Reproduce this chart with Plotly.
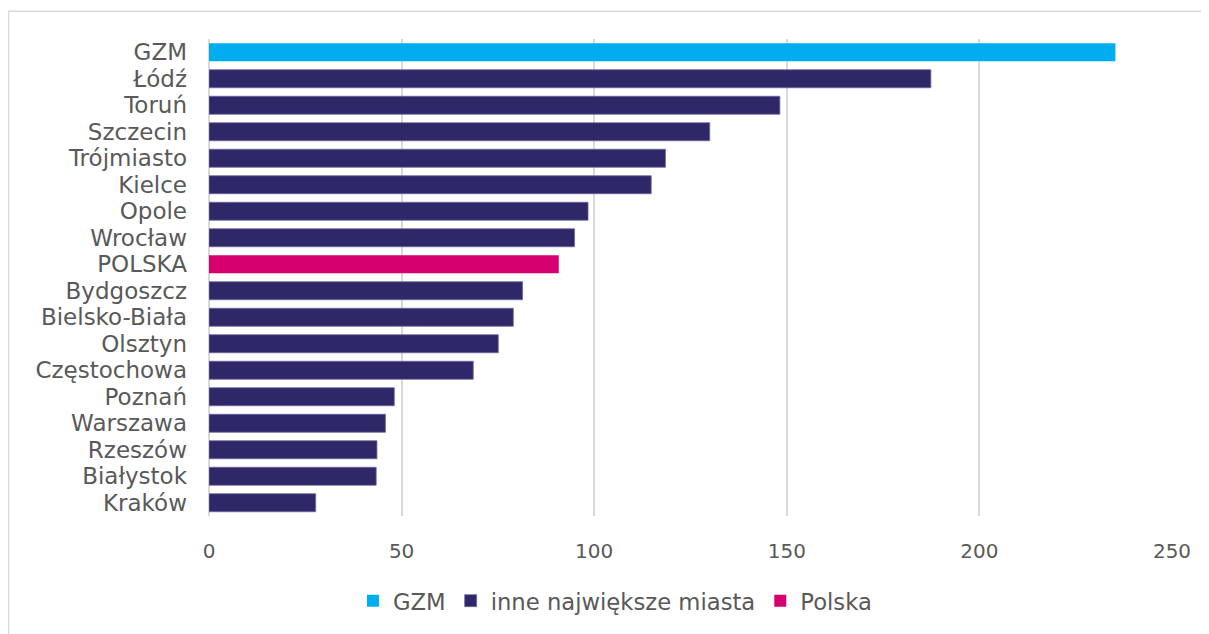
import plotly.graph_objects as go

categories = ["GZM", "Łódź", "Toruń", "Szczecin", "Trójmiasto", "Kielce", "Opole", "Wrocław",
              "POLSKA", "Bydgoszcz", "Bielsko-Biała", "Olsztyn", "Częstochowa", "Poznań",
              "Warszawa", "Rzeszów", "Białystok", "Kraków"]

gzm_cats = ["GZM"]
gzm_vals = [235.3]

other_cats = ["Łódź", "Toruń", "Szczecin", "Trójmiasto", "Kielce", "Opole", "Wrocław",
              "Bydgoszcz", "Bielsko-Biała", "Olsztyn", "Częstochowa", "Poznań",
              "Warszawa", "Rzeszów", "Białystok", "Kraków"]
other_vals = [187.4, 148.2, 130.0, 118.5, 114.8, 98.4, 94.9,
              81.4, 79.0, 75.1, 68.6, 48.1, 45.8, 43.6, 43.4, 27.7]

pl_cats = ["POLSKA"]
pl_vals = [90.8]

x_ticks = [0, 50, 100, 150, 200, 250]

FONT = "DejaVu Sans"
GRAY = "#595959"

fig = go.Figure()
fig.add_trace(go.Bar(y=gzm_cats, x=gzm_vals, orientation="h", name="GZM",
                     marker=dict(color="#00AEEF", line=dict(width=0)), width=0.68))
fig.add_trace(go.Bar(y=other_cats, x=other_vals, orientation="h", name="inne największe miasta",
                     marker=dict(color="#2E2768", line=dict(color="#6f69a0", width=0.8)), width=0.68))
fig.add_trace(go.Bar(y=pl_cats, x=pl_vals, orientation="h", name="Polska",
                     marker=dict(color="#D6006E", line=dict(width=0)), width=0.68))

fig.update_layout(
    width=1201, height=626,
    margin=dict(l=201, r=37, t=31, b=114),
    paper_bgcolor="white", plot_bgcolor="white",
    barmode="overlay",
    font=dict(family=FONT, color=GRAY),
    showlegend=True,
    legend=dict(orientation="h", x=0.1495, y=-0.178, xanchor="left", yanchor="middle",
                font=dict(size=22.7, color=GRAY, family=FONT), itemwidth=30,
                traceorder="normal"),
    shapes=[dict(type="rect", xref="paper", yref="paper",
                 x0=-0.2082, x1=1.06, y0=-0.3, y1=1.0582,
                 line=dict(color="#d9d9d9", width=1.5), fillcolor="rgba(0,0,0,0)", layer="below")],
)
fig.update_xaxes(range=[0, 250], tickvals=x_ticks, showgrid=True, gridcolor="#d9d9d9", gridwidth=1.5,
                 zeroline=True, zerolinecolor="#d9d9d9", zerolinewidth=1.5,
                 showline=False, ticks="", tickfont=dict(size=20, color=GRAY, family=FONT),
                 ticklabelstandoff=21)
fig.update_yaxes(categoryorder="array", categoryarray=categories, autorange="reversed",
                 tickmode="array", tickvals=categories, ticktext=categories,
                 showgrid=False, showline=False, ticks="",
                 tickfont=dict(size=23, color=GRAY, family=FONT), ticklabelstandoff=21)

fig.write_html("out.html")
